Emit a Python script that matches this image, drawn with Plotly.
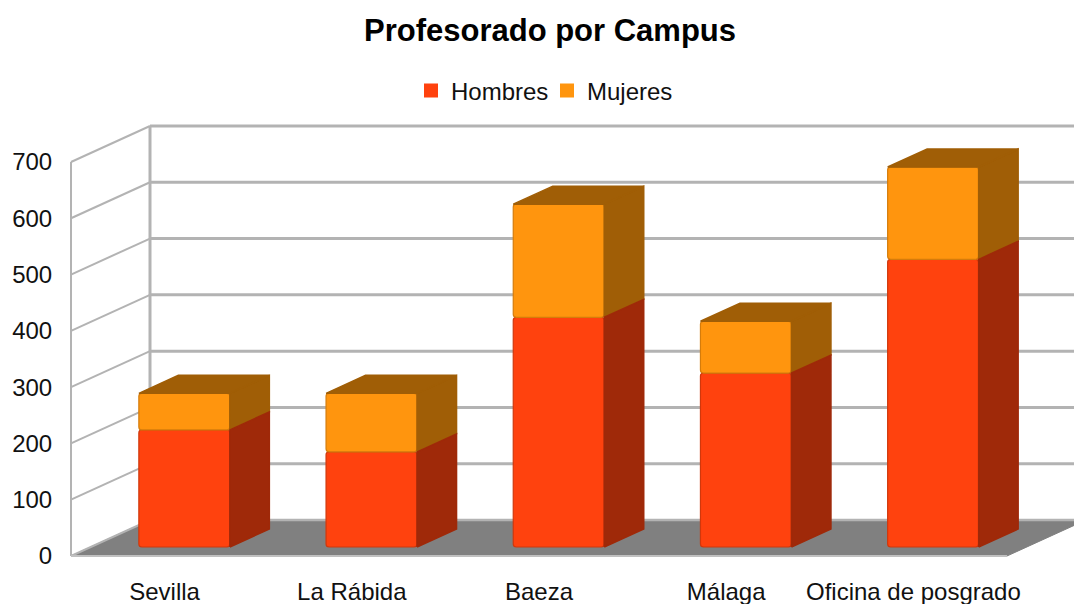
import plotly.graph_objects as go

categories = ["Sevilla", "La Rábida", "Baeza", "Málaga", "Oficina de posgrado"]
hombres = [208, 169, 408, 309, 511]
mujeres = [65, 104, 201, 92, 164]
y_ticks = [0, 100, 200, 300, 400, 500, 600, 700]

W, H = 1074, 604
PX_CAT = 187.2          # px per category
PX_VAL = 0.5629         # px per unit
X0_PX, Y0_PX = 71, 556  # front-plane origin in px
L_PX, R_PX, T_PX, B_PX = 68, 1074, 122, 560

DX = 79 / PX_CAT        # full depth of the floor, in x units
DY = 36 / PX_VAL        # full depth of the floor, in y units
BAR_W = 91 / PX_CAT
D_FRONT, D_BACK = 0.25, 0.75
GRID = "#b3b3b3"
C_MEN, C_WOMEN = "#ff420e", "#ff950e"


def px(v):
    return -0.5 + (v - X0_PX) / PX_CAT


def py(v):
    return (Y0_PX - v) / PX_VAL


x_range = [px(L_PX), px(R_PX)]
y_range = [py(B_PX), py(T_PX)]
x_idx = list(range(len(categories)))
x_left, x_right = -0.5, len(categories) - 0.5
top = y_ticks[-1]


def poly(points):
    return "M" + "L".join(f"{a},{b}" for a, b in points) + "Z"


shapes = []
# floor
shapes.append(dict(type="path", layer="below", fillcolor="#808080", line=dict(color="#808080", width=1),
                   path=poly([(x_left, 0), (x_left + DX, DY), (x_right + DX, DY), (x_right, 0)])))
# grid on back and side walls
for t in y_ticks:
    shapes.append(dict(type="line", layer="below", x0=x_left + DX, x1=x_right + DX, y0=t + DY, y1=t + DY,
                       line=dict(color=GRID, width=3 if t else 2.5)))
    shapes.append(dict(type="line", layer="below", x0=x_left, x1=x_left + DX, y0=t, y1=t + DY,
                       line=dict(color=GRID, width=2)))
shapes.append(dict(type="line", layer="below", x0=x_left, x1=x_left, y0=0, y1=top, line=dict(color=GRID, width=2)))
shapes.append(dict(type="line", layer="below", x0=x_left + DX, x1=x_left + DX, y0=DY, y1=top + DY,
                   line=dict(color=GRID, width=3)))
shapes.append(dict(type="line", layer="below", x0=x_left, x1=x_right, y0=0, y1=0, line=dict(color="#c0c0c0", width=2)))

fig = go.Figure()
base0 = D_FRONT * DY
xs = [i + D_FRONT * DX for i in x_idx]

fig.add_trace(go.Bar(name="Hombres", x=xs, y=hombres, base=[base0] * len(xs), width=BAR_W, showlegend=False,
                     marker=dict(color=C_MEN, line=dict(color="#d0380c", width=1.2))))
fig.add_trace(go.Bar(name="Mujeres", x=xs, y=mujeres, base=[base0 + h for h in hombres], width=BAR_W, showlegend=False,
                     marker=dict(color=C_WOMEN, line=dict(color="#d57c0b", width=1.2))))


def side(i, lo, hi, color):
    xf = xs[i] + BAR_W / 2
    d = (D_BACK - D_FRONT)
    xb = xf + d * DX
    pts = [(xf, lo), (xb, lo + d * DY), (xb, hi + d * DY), (xf, hi), (xf, lo)]
    fig.add_trace(go.Scatter(x=[p[0] for p in pts], y=[p[1] for p in pts], mode="lines", fill="toself",
                             fillcolor=color, line=dict(color=color, width=1.5), showlegend=False, hoverinfo="skip"))


def topface(i, level, color):
    xl, xr = xs[i] - BAR_W / 2, xs[i] + BAR_W / 2
    d = (D_BACK - D_FRONT)
    pts = [(xl, level), (xr, level), (xr + d * DX, level + d * DY), (xl + d * DX, level + d * DY), (xl, level)]
    fig.add_trace(go.Scatter(x=[p[0] for p in pts], y=[p[1] for p in pts], mode="lines", fill="toself",
                             fillcolor=color, line=dict(color=color, width=1.5), showlegend=False, hoverinfo="skip"))


for i in x_idx:
    h, m = hombres[i], mujeres[i]
    side(i, base0 + h, base0 + h + m, "#a05e06")
    topface(i, base0 + h + m, "#a05e06")
    side(i, base0, base0 + h, "#9f2909")

# legend keys (square swatches)
for name, color in (("Hombres", C_MEN), ("Mujeres", C_WOMEN)):
    fig.add_trace(go.Scatter(x=[None], y=[None], name=name, mode="markers", showlegend=True,
                             marker=dict(symbol="square", size=14, color=color)))

FONT = "Liberation Sans"
fig.update_layout(
    width=W, height=H, autosize=False,
    paper_bgcolor="white", plot_bgcolor="white",
    margin=dict(l=L_PX, r=W - R_PX, t=T_PX, b=H - B_PX, autoexpand=False),
    font=dict(family=FONT, size=24, color="#111111"),
    title=dict(text="<b>Profesorado por Campus</b>", font=dict(family=FONT, size=31, color="#000000"),
               xref="container", yref="container", x=550 / W, xanchor="center", y=1 - 30 / H, yanchor="middle"),
    barmode="overlay", barcornerradius=3, showlegend=True,
    legend=dict(orientation="h", xref="container", yref="container", x=547 / W, xanchor="center",
                y=1 - 91 / H, yanchor="middle", font=dict(size=24), itemwidth=30, traceorder="normal",
                entrywidth=91, entrywidthmode="pixels", bgcolor="rgba(0,0,0,0)"),
    shapes=shapes,
    xaxis=dict(range=x_range, tickvals=x_idx, ticktext=categories, showgrid=False, zeroline=False, showline=False,
               ticks="outside", ticklen=10, tickcolor="rgba(0,0,0,0)", tickfont=dict(size=24)),
    yaxis=dict(range=y_range, tickvals=y_ticks, showgrid=False, zeroline=False, showline=False,
               ticks="outside", ticklen=10, tickcolor="rgba(0,0,0,0)", tickfont=dict(size=24)),
)
fig.write_html("out.html", post_script="document.body.style.margin='0';",
               config={"displayModeBar": False})
